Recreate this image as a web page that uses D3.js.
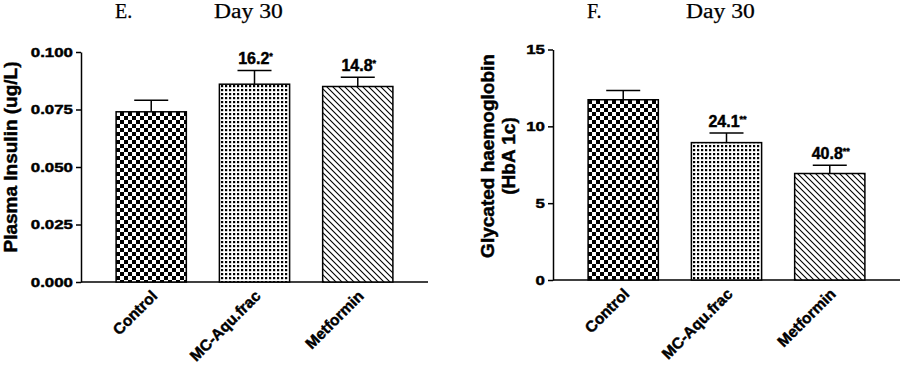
<!DOCTYPE html>
<html>
<head>
<meta charset="utf-8">
<script src="https://cdn.jsdelivr.net/npm/d3@7"></script>
<style>
  body { margin: 0; background: #fff; }
  svg { display: block; }
  .tick text, .xlab, .ylab, .note { font-family: "Liberation Sans", Arial, sans-serif; font-weight: bold; fill: #000; stroke: #000; stroke-width: 0.45px; }
  .title { font-family: "Liberation Serif", "Times New Roman", serif; font-size: 20px; fill: #000; stroke: #000; stroke-width: 0.25px; }
</style>
</head>
<body>
<svg id="chart" width="902" height="366"></svg>
<script>
// groups shared by both panels
const groups = ['Control', 'MC-Aqu.frac', 'Metformin'];

// E. plasma insulin, day 30
const insulinMean = [0.074, 0.086, 0.085];
const insulinSem = [0.005, 0.006, 0.004];
const insulinChange = ['', '16.2', '14.8'];
const insulinStars = ['', '*', '*'];
const insulinTicks = [0, 0.025, 0.05, 0.075, 0.1];

// F. glycated haemoglobin, day 30
const hbMean = [11.73, 8.94, 6.93];
const hbSem = [0.6, 0.62, 0.54];
const hbChange = ['', '24.1', '40.8'];
const hbStars = ['', '**', '**'];
const hbTicks = [0, 5, 10, 15];

const fills = ['url(#checker)', 'url(#dots)', 'url(#diag)'];

const svg = d3.select('#chart');
svg.append('rect').attr('width', 902).attr('height', 366).attr('fill', '#fff');

// hatch patterns
const defs = svg.append('defs');
const checker = defs.append('pattern').attr('id', 'checker')
  .attr('patternUnits', 'userSpaceOnUse').attr('width', 8).attr('height', 8);
checker.append('rect').attr('width', 8).attr('height', 8).attr('fill', '#fff');
checker.append('rect').attr('width', 4).attr('height', 4).attr('fill', '#000');
checker.append('rect').attr('x', 4).attr('y', 4).attr('width', 4).attr('height', 4).attr('fill', '#000');

const dots = defs.append('pattern').attr('id', 'dots')
  .attr('patternUnits', 'userSpaceOnUse').attr('width', 4).attr('height', 4);
dots.append('rect').attr('width', 4).attr('height', 4).attr('fill', '#fff');
dots.append('rect').attr('x', 1).attr('y', 1).attr('width', 2.2).attr('height', 2.2).attr('fill', '#000');

const diag = defs.append('pattern').attr('id', 'diag')
  .attr('patternUnits', 'userSpaceOnUse').attr('width', 6).attr('height', 6);
diag.append('rect').attr('width', 6).attr('height', 6).attr('fill', '#fff');
diag.append('path').attr('d', 'M-1,-1L7,7M-1,5L1,7M5,-1L7,1')
  .attr('stroke', '#000').attr('stroke-width', 1.1);

// stretch text sideways like the original export
function widen(sel, k) {
  sel.each(function () {
    const w = this.getComputedTextLength();
    d3.select(this).attr('textLength', w * k).attr('lengthAdjust', 'spacingAndGlyphs');
  });
}

function panel(p) {
  const g = svg.append('g');
  const width = 347;

  const x = d3.scaleBand()
    .domain(groups)
    .range([p.left, p.left + width])
    .paddingInner(0.32)
    .paddingOuter(0.34);

  const y = d3.scaleLinear()
    .domain([0, p.ticks[p.ticks.length - 1]])
    .range([p.bottom, p.top]);

  // y axis
  const yAxis = g.append('g')
    .attr('transform', `translate(${p.left},0)`)
    .call(d3.axisLeft(y).tickValues(p.ticks).tickFormat(p.fmt).tickSize(5).tickSizeOuter(0).tickPadding(3));
  yAxis.selectAll('path, line').attr('stroke', '#000').attr('stroke-width', 1.5);
  yAxis.selectAll('text').style('font-size', '13.5px').call(widen, 1.25);

  // x axis
  g.append('line')
    .attr('x1', p.left).attr('x2', p.left + width)
    .attr('y1', p.bottom).attr('y2', p.bottom)
    .attr('stroke', '#000').attr('stroke-width', 1.5);

  g.selectAll('.xlab').data(groups).enter().append('text')
    .attr('class', 'xlab')
    .attr('text-anchor', 'end')
    .attr('transform', (d) => `translate(${x(d) + x.bandwidth() / 2 + 7},${p.bottom + 15}) rotate(-45)`)
    .style('font-size', '15.5px')
    .text((d) => d);

  // error bars (upper only)
  const err = g.selectAll('.err').data(groups).enter().append('g');
  err.append('line')
    .attr('x1', (d) => x(d) + x.bandwidth() / 2)
    .attr('x2', (d) => x(d) + x.bandwidth() / 2)
    .attr('y1', (d, i) => y(p.mean[i]))
    .attr('y2', (d, i) => y(p.mean[i] + p.sem[i]))
    .attr('stroke', '#000').attr('stroke-width', 1.5);
  err.append('line')
    .attr('x1', (d) => x(d) + x.bandwidth() / 2 - 17)
    .attr('x2', (d) => x(d) + x.bandwidth() / 2 + 17)
    .attr('y1', (d, i) => y(p.mean[i] + p.sem[i]))
    .attr('y2', (d, i) => y(p.mean[i] + p.sem[i]))
    .attr('stroke', '#000').attr('stroke-width', 1.5);

  // bars
  g.selectAll('.bar').data(groups).enter().append('rect')
    .attr('class', 'bar')
    .attr('x', (d) => x(d))
    .attr('y', (d, i) => y(p.mean[i]))
    .attr('width', x.bandwidth())
    .attr('height', (d, i) => p.bottom - y(p.mean[i]))
    .attr('fill', (d, i) => fills[i])
    .attr('stroke', '#000').attr('stroke-width', 1.5);

  // % change notes
  const note = g.selectAll('.note').data(groups).enter().append('text')
    .attr('class', 'note')
    .attr('text-anchor', 'middle')
    .attr('x', (d) => x(d) + x.bandwidth() / 2 + 1)
    .attr('y', (d, i) => y(p.mean[i] + p.sem[i]) - 6)
    .style('font-size', '16px');
  note.append('tspan').text((d, i) => p.change[i]);
  note.append('tspan').attr('dy', -5).style('font-size', '9px').text((d, i) => p.stars[i]);

  // y label
  const yl = g.append('text')
    .attr('class', 'ylab')
    .attr('text-anchor', 'middle')
    .attr('transform', `translate(${p.labelX},${p.labelY}) rotate(-90)`)
    .style('font-size', '19px');
  p.label.forEach((t, i) => {
    yl.append('tspan').attr('x', 0).attr('dy', i === 0 ? 0 : 21).text(t);
  });

  // titles
  g.append('text').attr('class', 'title').attr('x', p.left + 34).attr('y', 18).text(p.letter);
  g.append('text').attr('class', 'title').attr('x', p.left + 133).attr('y', 18).text('Day 30')
    .call(widen, 1.18);
}

panel({
  left: 81, top: 52, bottom: 282,
  mean: insulinMean, sem: insulinSem, change: insulinChange, stars: insulinStars,
  ticks: insulinTicks, fmt: d3.format('.3f'),
  label: ['Plasma Insulin (ug/L)'], labelX: 17, labelY: 157,
  letter: 'E.'
});

panel({
  left: 553, top: 49.5, bottom: 280,
  mean: hbMean, sem: hbSem, change: hbChange, stars: hbStars,
  ticks: hbTicks, fmt: d3.format('d'),
  label: ['Glycated haemoglobin', '(HbA 1c)'], labelX: 494, labelY: 156,
  letter: 'F.'
});
</script>
</body>
</html>
